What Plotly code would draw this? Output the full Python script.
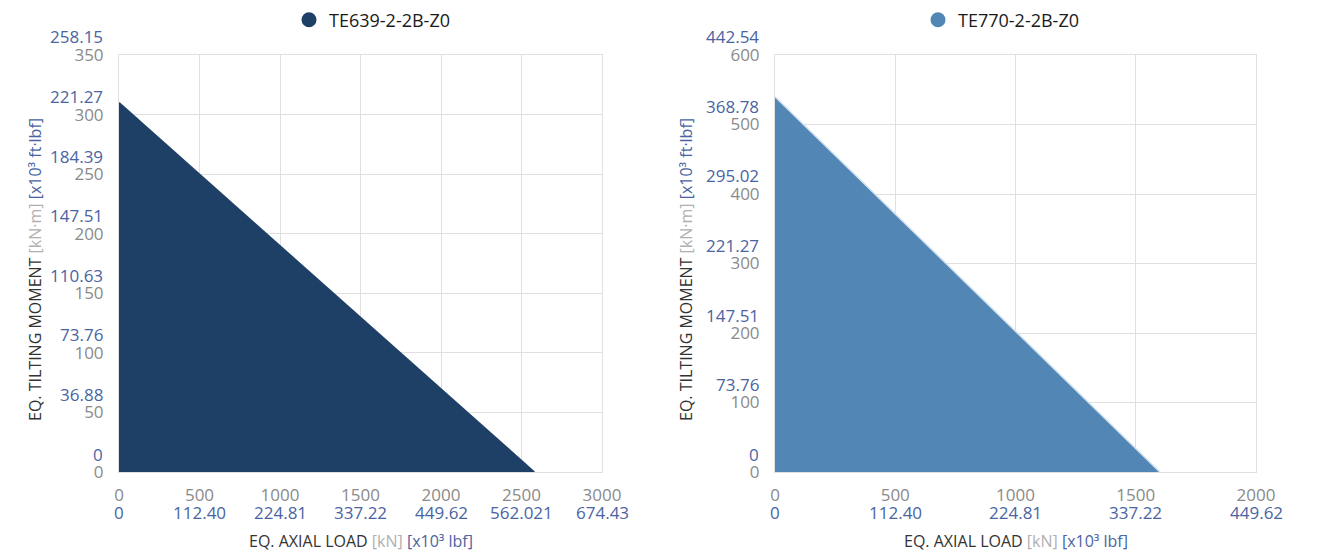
import plotly.graph_objects as go

# Load-capacity curves (axial load in kN, tilting moment in kN·m)
series_names = ["TE639-2-2B-Z0", "TE770-2-2B-Z0"]
series_colors = ["#1f4066", "#5286b4"]
edge_colors = ["#1f4066", "#cfe0ef"]

axial_left = [0, 2580]
moment_left = [310, 0]
axial_right = [0, 1600]
moment_right = [540, 0]

# Primary ticks (SI) and their imperial equivalents
x_ticks_left = [0, 500, 1000, 1500, 2000, 2500, 3000]
x_imp_left = ["0", "112.40", "224.81", "337.22", "449.62", "562.021", "674.43"]
y_ticks_left = [0, 50, 100, 150, 200, 250, 300, 350]
y_imp_left = ["0", "36.88", "73.76", "110.63", "147.51", "184.39", "221.27", "258.15"]

x_ticks_right = [0, 500, 1000, 1500, 2000]
x_imp_right = ["0", "112.40", "224.81", "337.22", "449.62"]
y_ticks_right = [0, 100, 200, 300, 400, 500, 600]
y_imp_right = ["0", "73.76", "147.51", "221.27", "295.02", "368.78", "442.54"]

W, H = 1320, 554
FONT = "Open Sans"
GRAY = "#8a8a8a"
BLUE = "#4a64a2"
GRID = "#e0e0e0"

fig = go.Figure()

panels = [
    dict(x=axial_left, y=moment_left, xa="x", ya="y", legend="legend",
         xt=x_ticks_left, xi=x_imp_left, yt=y_ticks_left, yi=y_imp_left,
         xr=[0, 3000], yr=[0, 350], px=(119, 602), ytitle=35, lx=372),
    dict(x=axial_right, y=moment_right, xa="x2", ya="y2", legend="legend2",
         xt=x_ticks_right, xi=x_imp_right, yt=y_ticks_right, yi=y_imp_right,
         xr=[0, 2000], yr=[0, 600], px=(775, 1256), ytitle=686, lx=1001),
]

top_px, bot_px = 55, 472
ydom = [1 - bot_px / H, 1 - top_px / H]

legend_common = dict(
    orientation="h", xanchor="center", yanchor="middle",
    y=1 - 20 / H, bgcolor="rgba(0,0,0,0)",
    font=dict(family=FONT, size=18, color="#1a1a1a"),
    itemsizing="trace", itemwidth=30,
)

annotations = []
for i, p in enumerate(panels):
    fig.add_trace(go.Scatter(
        x=p["x"], y=p["y"], xaxis=p["xa"], yaxis=p["ya"],
        mode="lines", fill="tozeroy", fillcolor=series_colors[i],
        line=dict(color=edge_colors[i], width=1.5),
        showlegend=False, hoverinfo="x+y",
    ))
    # legend entry with a round marker
    fig.add_trace(go.Scatter(
        x=[None], y=[None], xaxis=p["xa"], yaxis=p["ya"],
        mode="markers", name=series_names[i],
        marker=dict(symbol="circle", size=15, color=series_colors[i]),
        legend=p["legend"], showlegend=True,
    ))

    sfx = "" if i == 0 else "2"
    xd = [p["px"][0] / W, p["px"][1] / W]
    axis_common = dict(
        showgrid=True, gridcolor=GRID, gridwidth=1,
        showline=True, linecolor=GRID, linewidth=1, mirror=True,
        zeroline=False, ticks="", automargin=False,
        tickfont=dict(family=FONT, size=17, color=GRAY),
    )
    fig.update_layout(**{
        "xaxis" + sfx: dict(axis_common, domain=xd, range=p["xr"],
                            tickvals=p["xt"], ticklabelstandoff=8,
                            anchor="y" + sfx),
        "yaxis" + sfx: dict(axis_common, domain=ydom, range=p["yr"],
                            tickvals=p["yt"], ticklabelstandoff=11,
                            anchor="x" + sfx),
        ("legend" if i == 0 else "legend2"): dict(legend_common, x=p["lx"] / W),
    })

    # imperial labels under the x ticks
    for v, t in zip(p["xt"], p["xi"]):
        annotations.append(dict(
            x=v, xref=p["xa"], y=0, yref=p["ya"] + " domain",
            yanchor="middle", xanchor="center", yshift=-40,
            text=t, showarrow=False,
            font=dict(family=FONT, size=17, color=BLUE)))
    # imperial labels above the y ticks
    for v, t in zip(p["yt"], p["yi"]):
        annotations.append(dict(
            x=0, xref=p["xa"] + " domain", y=v, yref=p["ya"],
            xanchor="right", yanchor="middle", xshift=-14, yshift=18,
            text=t, showarrow=False,
            font=dict(family=FONT, size=17, color=BLUE)))

    cx = (p["px"][0] + p["px"][1]) / 2 / W
    annotations.append(dict(
        x=cx, xref="paper", y=1 - 541 / H, yref="paper",
        xanchor="center", yanchor="middle", showarrow=False,
        text=("EQ. AXIAL LOAD <span style='color:#b0b0b0'>[kN]</span> "
              f"<span style='color:{BLUE}'>[x10³ lbf]</span>"),
        font=dict(family=FONT, size=16, color="#333333")))
    annotations.append(dict(
        x=p["ytitle"] / W, xref="paper", y=1 - 270 / H, yref="paper",
        xanchor="center", yanchor="middle", showarrow=False, textangle=-90,
        text=("EQ. TILTING MOMENT <span style='color:#b0b0b0'>[kN·m]</span> "
              f"<span style='color:{BLUE}'>[x10³ ft·lbf]</span>"),
        font=dict(family=FONT, size=16, color="#333333")))

fig.update_layout(
    width=W, height=H,
    margin=dict(l=0, r=0, t=0, b=0, autoexpand=False),
    paper_bgcolor="white", plot_bgcolor="white",
    annotations=annotations,
    font=dict(family=FONT),
)

fig.write_html("out.html")
